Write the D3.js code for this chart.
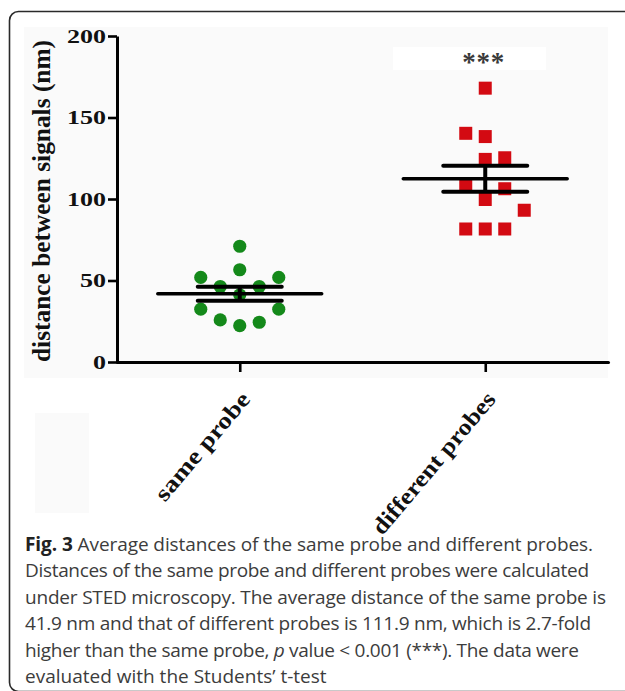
<!DOCTYPE html>
<html>
<head>
<meta charset="utf-8">
<script src="https://cdn.jsdelivr.net/npm/d3@7"></script>
<style>
  body { margin: 0; background: #fff; }
  svg { display: block; }
</style>
</head>
<body>
<div id="chart"></div>
<script>
// scatter with mean +/- SEM, two groups

var categories = ["same probe", "different probes"];
var sameProbe = [71, 56.6, 51.9, 51.9, 46.3, 46.3, 41.2, 32.4, 32.4, 25.8, 24.4, 22.3];
var differentProbes = [168, 140.3, 138.3, 125.3, 124.3, 108.9, 106.3, 99.7, 93.1, 81.6, 81.6, 81.6];
var yTicks = [0, 50, 100, 150, 200];
var yTitle = "distance between signals (nm)";
var significance = "***";
var captionLines = [
  [{t: "Fig. 3", b: true}, {t: " Average distances of the same probe and different probes."}],
  [{t: "Distances of the same probe and different probes were calculated"}],
  [{t: "under STED microscopy. The average distance of the same probe is"}],
  [{t: "41.9 nm and that of different probes is 111.9 nm, which is 2.7-fold"}],
  [{t: "higher than the same probe, "}, {t: "p", i: true}, {t: " value < 0.001 (***). The data were"}],
  [{t: "evaluated with the Students\u2019 t-test"}]
];

var width = 625,
    height = 691;

var svg = d3.select("#chart")
    .append("svg")
    .attr("width", width)
    .attr("height", height);

// panel frame
svg.append("rect")
    .attr("x", 9.5).attr("y", 11.5)
    .attr("width", 640).attr("height", 680)
    .attr("rx", 9)
    .attr("fill", "#fff")
    .attr("stroke", "#2a2a2a")
    .attr("stroke-width", 1.6);

// faint backdrop of the pasted chart image
svg.append("rect").attr("x", 24).attr("y", 27).attr("width", 584).attr("height", 351).attr("fill", "#fafafa");
svg.append("rect").attr("x", 393).attr("y", 47).attr("width", 153).attr("height", 23).attr("fill", "#fff");
svg.append("rect").attr("x", 35).attr("y", 413).attr("width", 54).attr("height", 100).attr("fill", "#fafafa");

var groups = [
  {name: categories[0], values: sameProbe, color: "#14891a", shape: "circle"},
  {name: categories[1], values: differentProbes, color: "#d30a12", shape: "square"}
];

var xScale = d3.scalePoint()
    .domain(categories)
    .range([117, 608])
    .padding(0.5);

var yScale = d3.scaleLinear()
    .domain([0, 200])
    .range([362, 36]);

var serif = "'Liberation Serif', 'Times New Roman', serif";

// simple column beeswarm: ascending values, take the nearest free column
function swarm(values, step, minGap) {
  var sorted = values.slice().sort(d3.ascending);
  var placed = [];
  sorted.forEach(function(v) {
    var py = yScale(v);
    function free(c) {
      return placed.every(function(p) { return p.col !== c || Math.abs(p.py - py) >= minGap; });
    }
    function count(c) {
      return placed.filter(function(p) { return p.col === c; }).length;
    }
    var col = 0;
    if (!free(0)) {
      for (var k = 1; k < 10; k++) {
        var cands = [k, -k].sort(function(a, b) { return count(a) - count(b); });
        var hit = cands.filter(free);
        if (hit.length) { col = hit[0]; break; }
      }
    }
    placed.push({v: v, py: py, col: col, dx: col * step});
  });
  return placed;
}

var plot = svg.append("g");

groups.forEach(function(g) {
  var cx = xScale(g.name);
  var pts = swarm(g.values, 19.5, 19);
  var sel = plot.append("g").selectAll(".pt").data(pts).enter();
  if (g.shape === "circle") {
    sel.append("circle")
      .attr("cx", function(d) { return cx + d.dx; })
      .attr("cy", function(d) { return yScale(d.v); })
      .attr("r", 6.6)
      .attr("fill", g.color);
  } else {
    sel.append("rect")
      .attr("x", function(d) { return cx + d.dx - 6.5; })
      .attr("y", function(d) { return yScale(d.v) - 6.5; })
      .attr("width", 13).attr("height", 13)
      .attr("fill", g.color);
  }

  var mean = d3.mean(g.values);
  var sem = d3.deviation(g.values) / Math.sqrt(g.values.length);
  var bars = plot.append("g")
      .attr("stroke", "#000")
      .attr("stroke-linecap", "round");
  bars.append("line")
      .attr("x1", cx - 82).attr("x2", cx + 82)
      .attr("y1", yScale(mean)).attr("y2", yScale(mean))
      .attr("stroke-width", 3.4);
  [mean - sem, mean + sem].forEach(function(v) {
    bars.append("line")
      .attr("x1", cx - 42).attr("x2", cx + 42)
      .attr("y1", yScale(v)).attr("y2", yScale(v))
      .attr("stroke-width", 4);
  });
  bars.append("line")
      .attr("x1", cx).attr("x2", cx)
      .attr("y1", yScale(mean - sem)).attr("y2", yScale(mean + sem))
      .attr("stroke-width", 4)
      .attr("stroke-linecap", "butt");
});

// significance mark
svg.append("text")
    .attr("x", xScale(categories[1]) - 2)
    .attr("y", 71)
    .attr("text-anchor", "middle")
    .attr("font-family", serif)
    .attr("font-weight", "bold")
    .attr("font-size", 27)
    .attr("fill", "#3a3a3a")
    .attr("textLength", 42)
    .attr("lengthAdjust", "spacing")
    .text(significance);

// axes
var yAxis = d3.axisLeft(yScale).tickValues(yTicks).tickSize(9).tickSizeOuter(0).tickPadding(2);
var xAxis = d3.axisBottom(xScale).tickSize(10).tickSizeOuter(0);

var gy = svg.append("g")
    .attr("class", "yAxis")
    .attr("transform", "translate(117,0)")
    .call(yAxis);
gy.select(".domain").attr("stroke-width", 3).attr("stroke", "#000");
gy.selectAll(".tick line").attr("stroke-width", 2.6).attr("stroke", "#000");
gy.selectAll(".tick text")
    .attr("font-family", serif)
    .attr("font-weight", "bold")
    .attr("font-size", 18)
    .attr("fill", "#111")
    .attr("dy", "0.34em")
    .attr("textLength", function(d) { return String(d).length * 13; })
    .attr("lengthAdjust", "spacingAndGlyphs");

var gx = svg.append("g")
    .attr("class", "xAxis")
    .attr("transform", "translate(0,362)")
    .call(xAxis);
gx.select(".domain").attr("stroke-width", 3).attr("stroke", "#000").attr("stroke-linecap", "round");
gx.selectAll(".tick line").attr("stroke-width", 2.6).attr("stroke", "#000");
gx.selectAll(".tick text")
    .attr("font-family", serif)
    .attr("font-weight", "bold")
    .attr("font-size", 23)
    .attr("fill", "#111")
    .attr("text-anchor", "end")
    .attr("x", 0).attr("y", 0).attr("dy", null)
    .attr("transform", "translate(11,38) rotate(-50)")
    .attr("textLength", function(d) { return d === categories[0] ? 134 : 178; })
    .attr("lengthAdjust", "spacingAndGlyphs");

// y title
svg.append("text")
    .attr("transform", "translate(50,201) rotate(-90) scale(1,1.35)")
    .attr("text-anchor", "middle")
    .attr("font-family", serif)
    .attr("font-weight", "bold")
    .attr("font-size", 18)
    .attr("fill", "#111")
    .attr("textLength", 322)
    .attr("lengthAdjust", "spacingAndGlyphs")
    .text(yTitle);

// caption
var lineEnds = [593, 589, 606, 591, 579, null];
var cap = svg.append("g")
    .attr("font-family", "'Open Sans', sans-serif")
    .attr("font-size", 19)
    .attr("fill", "#3c3c3c");
captionLines.forEach(function(parts, i) {
  var t = cap.append("text")
      .attr("x", 25)
      .attr("y", 551 + i * 26.4);
  if (lineEnds[i]) t.attr("textLength", lineEnds[i] - 25).attr("lengthAdjust", "spacing");
  parts.forEach(function(p) {
    var s = t.append("tspan").text(p.t);
    if (p.b) s.attr("font-weight", "bold").attr("fill", "#222");
    if (p.i) s.attr("font-style", "italic");
  });
});
</script>
</body>
</html>
